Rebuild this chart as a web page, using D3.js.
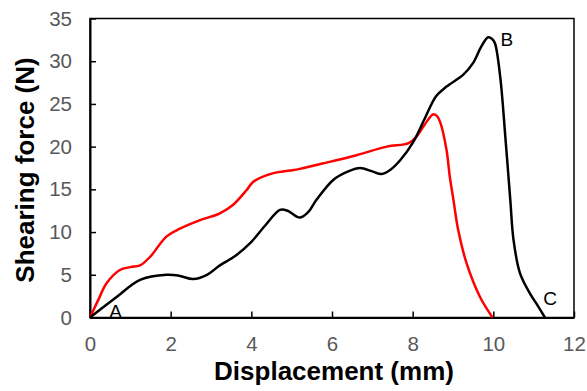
<!DOCTYPE html>
<html>
<head>
<meta charset="utf-8">
<script src="https://cdn.jsdelivr.net/npm/d3@7"></script>
<style>
  body { margin: 0; background: #fff; }
  svg { display: block; font-family: Arial, 'Liberation Sans', sans-serif; }
</style>
</head>
<body>
<div id="chart"></div>
<script>
'use strict'

// black curve (A -> B -> C)
var blackX = [0, 0.3, 0.66, 1.24, 1.9, 2.2, 2.56, 2.9, 3.22, 3.6, 3.97, 4.35, 4.71, 4.9, 5.2, 5.4, 5.62, 6.03, 6.4, 6.7, 7.0, 7.23, 7.45, 7.69, 8.02, 8.3, 8.58, 8.83, 9.25, 9.5, 9.7, 9.87, 9.97, 10.04, 10.17, 10.3, 10.42, 10.5, 10.66, 10.91, 11.1, 11.28];
var blackY = [0, 1.1, 2.4, 4.4, 5.0, 4.9, 4.5, 5.0, 6.1, 7.2, 8.7, 10.8, 12.6, 12.5, 11.7, 12.3, 13.8, 16.1, 17.1, 17.5, 17.1, 16.8, 17.3, 18.4, 20.6, 23.3, 25.9, 27.0, 28.4, 29.8, 31.7, 32.8, 32.6, 32.1, 28.2, 21.0, 13.8, 9.1, 5.2, 2.8, 1.4, 0];

// red curve
var redX = [0, 0.2, 0.41, 0.74, 1.0, 1.24, 1.49, 1.9, 2.23, 2.73, 3.22, 3.55, 3.88, 4.05, 4.55, 4.96, 5.2, 5.79, 6.61, 7.36, 7.9, 8.1, 8.3, 8.51, 8.6, 8.68, 8.84, 8.92, 9.01, 9.13, 9.34, 9.67, 9.98];
var redY = [0, 2.0, 4.0, 5.56, 5.9, 6.1, 7.1, 9.5, 10.4, 11.4, 12.2, 13.2, 14.9, 15.9, 16.9, 17.2, 17.4, 18.05, 19.0, 20.0, 20.4, 21.2, 22.6, 23.8, 23.6, 22.9, 19.6, 16.5, 13.8, 10.2, 6.3, 2.4, 0];

var xTicks = [0, 2, 4, 6, 8, 10, 12];
var yTicks = [0, 5, 10, 15, 20, 25, 30, 35];

var pointLabels = [
  { text: 'A', x: 0.48, y: 0 },
  { text: 'B', x: 10.18, y: 31.8 },
  { text: 'C', x: 11.24, y: 1.45 }
];

var WIDTH = 587, HEIGHT = 391;
var margin = { left: 90, top: 18.5, right: 13, bottom: 73.5 };

var svg = d3.select('#chart').append('svg')
  .attr('width', WIDTH).attr('height', HEIGHT);

var x = d3.scaleLinear().domain([0, 12]).range([margin.left, WIDTH - margin.right]);
var y = d3.scaleLinear().domain([0, 35]).range([HEIGHT - margin.bottom, margin.top]);

// frame
svg.append('rect')
  .attr('x', x(0)).attr('y', y(35))
  .attr('width', x(12) - x(0)).attr('height', y(0) - y(35))
  .attr('fill', 'none').attr('stroke', '#000').attr('stroke-width', 1.5);

var xAxis = svg.append('g')
  .attr('transform', 'translate(0,' + y(0) + ')')
  .call(d3.axisBottom(x).tickValues(xTicks).tickSizeInner(-6).tickSizeOuter(0).tickPadding(19));

var yAxis = svg.append('g')
  .attr('transform', 'translate(' + x(0) + ',0)')
  .call(d3.axisLeft(y).tickValues(yTicks).tickSizeInner(-6).tickSizeOuter(0).tickPadding(18));

[xAxis, yAxis].forEach(function (g) {
  g.select('.domain').attr('stroke', '#000').attr('stroke-width', 2);
  g.selectAll('.tick line').attr('stroke', '#000').attr('stroke-width', 1.5);
  g.selectAll('.tick text')
    .attr('fill', '#595959')
    .attr('font-size', '20.5px')
    .attr('font-family', "Arial, 'Liberation Sans', sans-serif");
});

var line = d3.line()
  .x(function (d) { return x(d[0]); })
  .y(function (d) { return y(d[1]); })
  .curve(d3.curveCatmullRom.alpha(0.5));

var blackData = blackX.map(function (v, i) { return [v, blackY[i]]; });
var redData = redX.map(function (v, i) { return [v, redY[i]]; });

svg.append('path').datum(redData)
  .attr('d', line).attr('fill', 'none')
  .attr('stroke', '#ff0000').attr('stroke-width', 2.5);

svg.append('path').datum(blackData)
  .attr('d', line).attr('fill', 'none')
  .attr('stroke', '#000').attr('stroke-width', 2.5);

svg.selectAll('text.plabel')
  .data(pointLabels)
  .enter()
  .append('text')
  .attr('class', 'plabel')
  .attr('x', function (d) { return x(d.x); })
  .attr('y', function (d) { return y(d.y); })
  .attr('font-size', '19px')
  .attr('fill', '#000')
  .text(function (d) { return d.text; });

// axis titles
svg.append('text')
  .attr('x', (x(0) + x(12)) / 2 + 2)
  .attr('y', 380)
  .attr('text-anchor', 'middle')
  .attr('font-size', '26px')
  .attr('font-weight', 'bold')
  .text('Displacement (mm)');

svg.append('text')
  .attr('transform', 'translate(34,' + ((y(0) + y(35)) / 2 + 2) + ') rotate(-90)')
  .attr('text-anchor', 'middle')
  .attr('font-size', '26px')
  .attr('font-weight', 'bold')
  .text('Shearing force (N)');
</script>
</body>
</html>
